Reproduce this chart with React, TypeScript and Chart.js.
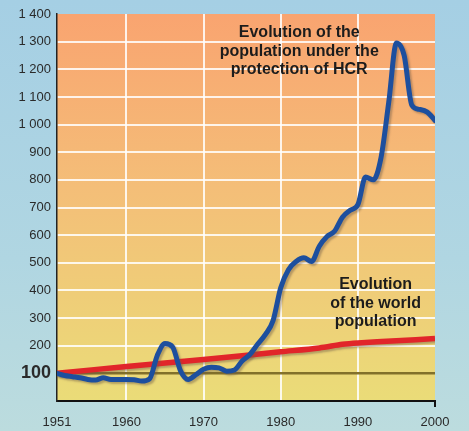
import React, { useEffect, useRef } from "react";
import { Chart, registerables } from "chart.js";
Chart.register(...registerables);

const years = [
  1951, 1952, 1953, 1954, 1955, 1956, 1957, 1958, 1959, 1960,
  1961, 1962, 1963, 1964, 1965, 1966, 1967, 1968, 1969, 1970,
  1971, 1972, 1973, 1974, 1975, 1976, 1977, 1978, 1979, 1980,
  1981, 1982, 1983, 1984, 1985, 1986, 1987, 1988, 1989, 1990,
  1991, 1992, 1993, 1994, 1995, 1996, 1997, 1998, 1999, 2000,
];
const hcrValues = [
  100, 92, 88, 84, 78, 76, 84, 78, 78, 78,
  77, 72, 80, 165, 208, 195, 110, 78, 95, 115,
  122, 120, 108, 112, 145, 168, 205, 240, 290, 410,
  475, 505, 518, 505, 560, 595, 615, 665, 690, 710,
  810, 800, 880, 1080, 1295, 1250, 1070, 1055, 1045, 1015,
];
const worldYears = [1951, 1960, 1970, 1980, 1985, 1988, 1990, 1995, 2000];
const worldValues = [100, 125, 150, 178, 192, 205, 210, 218, 226];
const baselineValue = 100;
const xTickValues = [1951, 1960, 1970, 1980, 1990, 2000];
const yTickValues = [100, 200, 300, 400, 500, 600, 700, 800, 900, 1000, 1100, 1200, 1300, 1400];
const hcrLabel = ["Evolution of the", "population under the", "protection of HCR"];
const hcrLabelAt = { year: 1982.4, value: 1332 };
const worldLabel = ["Evolution", "of the world", "population"];
const worldLabelAt = { year: 1992.3, value: 420 };

const FONT = "'Liberation Sans', Arial, Helvetica, sans-serif";

export default function App() {
  const canvasRef = useRef<HTMLCanvasElement | null>(null);

  useEffect(() => {
    document.body.style.margin = "0";
    const canvas = canvasRef.current;
    if (!canvas) return;

    const bgPlugin = {
      id: "plotBg",
      beforeDraw(chart: any) {
        const { ctx, chartArea } = chart;
        const { left, right, top, bottom } = chartArea;
        const g = ctx.createLinearGradient(0, top, 0, bottom);
        g.addColorStop(0, "#f9a470");
        g.addColorStop(0.45, "#f4be78");
        g.addColorStop(1, "#eadc78");
        ctx.save();
        ctx.fillStyle = g;
        ctx.fillRect(left, top, right - left, bottom - top);
        ctx.restore();
      },
    };

    const shadowPlugin = {
      id: "lineShadow",
      beforeDatasetDraw(chart: any, args: any) {
        const ctx = chart.ctx;
        ctx.save();
        if (args.index < 2) {
          ctx.shadowColor = "rgba(110, 90, 70, 0.45)";
          ctx.shadowOffsetX = 2;
          ctx.shadowOffsetY = 2;
          ctx.shadowBlur = 2;
        }
      },
      afterDatasetDraw(chart: any) {
        chart.ctx.restore();
      },
    };

    const labelPlugin = {
      id: "labels",
      afterDatasetsDraw(chart: any) {
        const { ctx, scales } = chart;
        const x = scales.x;
        const y = scales.y;
        ctx.save();
        ctx.font = `bold 16px ${FONT}`;
        ctx.fillStyle = "#1c1c1c";
        ctx.textAlign = "center";
        ctx.textBaseline = "middle";
        const draw = (lines: string[], at: { year: number; value: number }) => {
          const px = x.getPixelForValue(at.year);
          const py = y.getPixelForValue(at.value);
          lines.forEach((l, i) => ctx.fillText(l, px, py + i * 18.5));
        };
        draw(hcrLabel, hcrLabelAt);
        draw(worldLabel, worldLabelAt);
        const ex = x.getPixelForValue(xTickValues[xTickValues.length - 1]);
        ctx.strokeStyle = "#111";
        ctx.lineWidth = 2;
        ctx.beginPath();
        ctx.moveTo(ex, chart.chartArea.bottom);
        ctx.lineTo(ex, chart.chartArea.bottom + 6);
        ctx.stroke();
        ctx.restore();
      },
    };

    const chart = new Chart(canvas, {
      type: "line",
      data: {
        datasets: [
          {
            label: "HCR",
            data: years.map((yr, i) => ({ x: yr, y: hcrValues[i] })),
            borderColor: "#1d4f9e",
            borderWidth: 5,
            pointRadius: 0,
            cubicInterpolationMode: "monotone",
            borderCapStyle: "round",
            borderJoinStyle: "round",
          },
          {
            label: "World",
            data: worldYears.map((yr, i) => ({ x: yr, y: worldValues[i] })),
            borderColor: "#e1252a",
            borderWidth: 5.5,
            pointRadius: 0,
            tension: 0.3,
          },
          {
            label: "Base",
            data: [
              { x: years[0], y: baselineValue },
              { x: years[years.length - 1], y: baselineValue },
            ],
            borderColor: "#82702a",
            borderWidth: 2.5,
            pointRadius: 0,
          },
        ],
      },
      options: {
        responsive: false,
        animation: false,
        layout: { padding: { left: 0, top: 14, right: 34, bottom: 0 } },
        plugins: {
          legend: { display: false },
          tooltip: { enabled: false },
        },
        scales: {
          x: {
            type: "linear",
            min: 1951,
            max: 2000,
            afterBuildTicks(scale: any) {
              scale.ticks = xTickValues.map((v) => ({ value: v }));
            },
            afterFit(scale: any) {
              scale.height = 30;
            },
            grid: {
              drawTicks: false,
              lineWidth: 2,
              color: (c: any) =>
                c.tick && (c.tick.value === 1951 || c.tick.value === 2000)
                  ? "rgba(0,0,0,0)"
                  : "rgba(255,255,255,0.85)",
            },
            border: { display: true, color: "#111", width: 2 },
            ticks: {
              padding: 14,
              color: "#2a2a2a",
              font: { size: 13, family: FONT },
              maxRotation: 0,
              autoSkip: false,
              callback: (v: any) => String(v),
            },
          },
          y: {
            type: "linear",
            min: 0,
            max: 1400,
            afterBuildTicks(scale: any) {
              scale.ticks = yTickValues.map((v) => ({ value: v }));
            },
            afterFit(scale: any) {
              scale.width = 57;
            },
            grid: {
              drawTicks: false,
              lineWidth: 2,
              color: (c: any) =>
                c.tick && (c.tick.value === 100 || c.tick.value === 1400)
                  ? "rgba(0,0,0,0)"
                  : "rgba(255,255,255,0.85)",
            },
            border: { display: true, color: "#222", width: 1.5 },
            ticks: {
              padding: 6,
              color: "#2a2a2a",
              autoSkip: false,
              font: (c: any) =>
                c.tick && c.tick.value === 100
                  ? { size: 18, weight: "bold", family: FONT }
                  : { size: 13, family: FONT },
              callback: (v: any) => {
                const n = Number(v);
                return n >= 1000
                  ? `${Math.floor(n / 1000)} ${String(n % 1000).padStart(3, "0")}`
                  : String(n);
              },
            },
          },
        },
      },
      plugins: [bgPlugin, shadowPlugin, labelPlugin],
    } as any);

    return () => chart.destroy();
  }, []);

  return (
    <div
      style={{
        width: 469,
        height: 431,
        background: "linear-gradient(180deg, #a5cfe4 0%, #b0d6e2 60%, #bcdcde 100%)",
      }}
    >
      <canvas ref={canvasRef} width={469} height={431} style={{ display: "block" }} />
    </div>
  );
}
